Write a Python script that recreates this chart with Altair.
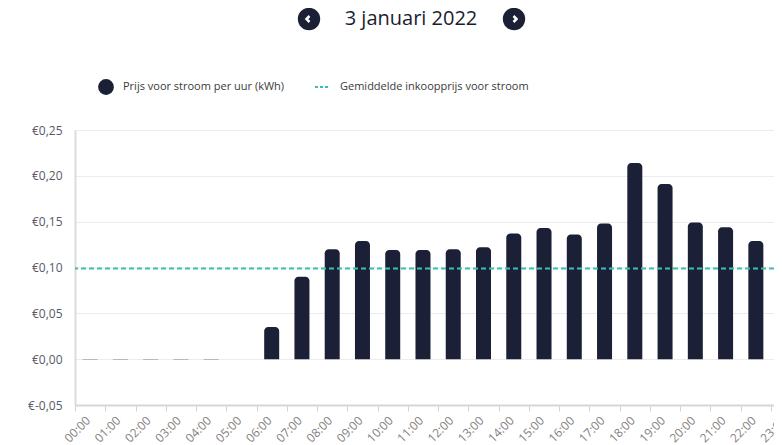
import json
import altair as alt
import pandas as pd

# ---- data ----
hour_labels = ["00:00", "01:00", "02:00", "03:00", "04:00", "05:00",
               "06:00", "07:00", "08:00", "09:00", "10:00", "11:00",
               "12:00", "13:00", "14:00", "15:00", "16:00", "17:00",
               "18:00", "19:00", "20:00", "21:00", "22:00", "23:00"]
prices = [-0.0004, 0.0003, 0.0003, -0.0004, -0.0004, 0.0,
          0.035, 0.090, 0.120, 0.129, 0.119, 0.119,
          0.120, 0.122, 0.137, 0.143, 0.136, 0.148,
          0.214, 0.191, 0.149, 0.144, 0.129, 0.109]
avg_price = 0.099
y_ticks = [-0.05, 0.0, 0.05, 0.10, 0.15, 0.20, 0.25]

title_text = "3 januari 2022"
legend_bar = "Prijs voor stroom per uur (kWh)"
legend_avg = "Gemiddelde inkoopprijs voor stroom"

NAVY = "#1b2036"
TEAL = "#3dbfb0"
FONT = "Open Sans"

df = pd.DataFrame({
    "label": hour_labels,
    "pos": [i + 0.5 for i in range(len(hour_labels))],
    "price": prices,
})
avg_df = pd.DataFrame({"avg": [avg_price]})
one = pd.DataFrame({"a": [0]})

# the visible window shows the hours up to just past 23:00
xscale = alt.Scale(domain=[0, 23.10], nice=False, zero=False, padding=0)
yscale = alt.Scale(domain=[-0.05, 0.25], nice=False)

label_array = json.dumps(hour_labels)

bars = alt.Chart(df).mark_bar(
    width=15, color=NAVY, cornerRadiusTopLeft=4, cornerRadiusTopRight=4, clip=True
).encode(
    x=alt.X("pos:Q", scale=xscale, title=None,
            axis=alt.Axis(values=list(range(len(hour_labels))),
                          labelExpr=f"{label_array}[datum.value]",
                          grid=False, domain=True, domainColor="#d6d6d6", domainWidth=2,
                          ticks=True, tickColor="#cbd4e4", tickSize=6, tickWidth=1,
                          labelAngle=-45, labelAlign="center", labelBaseline="middle",
                          labelPadding=18, labelOffset=2, labelFontSize=12,
                          labelColor="#85817e", labelFont=FONT, labelOverlap=False,
                          labelBound=False, labelFlush=False)),
    y=alt.Y("price:Q", scale=yscale, title=None,
            axis=alt.Axis(values=y_ticks,
                          labelExpr="(datum.value < 0 ? '€-' : '€') + replace(format(abs(datum.value), '.2f'), '.', ',')",
                          grid=True, gridColor="#ececec", gridWidth=1,
                          domain=True, domainColor="#dcdcdc", domainWidth=2,
                          ticks=False, labelPadding=13, labelFontSize=12,
                          labelColor="#555a66", labelFont=FONT)),
    y2=alt.datum(0),
)

avg_rule = alt.Chart(avg_df).mark_rule(
    color=TEAL, strokeDash=[5, 3], strokeWidth=2
).encode(y=alt.Y("avg:Q", scale=yscale))

# ---- header: title with navigation buttons ----
title = alt.Chart(one).mark_text(
    text=title_text, font=FONT, fontSize=20, color="#1a1d2e", align="center", baseline="middle"
).encode(x=alt.value(336), y=alt.value(-111))

nav_left = alt.Chart(one).mark_point(
    shape="circle", filled=True, color=NAVY, size=500, opacity=1
).encode(x=alt.value(234), y=alt.value(-111))

nav_right = alt.Chart(one).mark_point(
    shape="circle", filled=True, color=NAVY, size=500, opacity=1
).encode(x=alt.value(439), y=alt.value(-111))

chev_left = alt.Chart(one).mark_point(
    shape="M 0.25 -0.5 L -0.25 0 L 0.25 0.5", filled=False, stroke="white",
    strokeWidth=2.5, size=144, opacity=1
).encode(x=alt.value(233), y=alt.value(-111))

chev_right = alt.Chart(one).mark_point(
    shape="M -0.25 -0.5 L 0.25 0 L -0.25 0.5", filled=False, stroke="white",
    strokeWidth=2.5, size=144, opacity=1
).encode(x=alt.value(440), y=alt.value(-111))

# ---- legend ----
leg_dot = alt.Chart(one).mark_point(
    shape="circle", filled=True, color=NAVY, size=250, opacity=1
).encode(x=alt.value(31), y=alt.value(-43))

leg_text1 = alt.Chart(one).mark_text(
    text=legend_bar, font=FONT, fontSize=11, color="#3a3a3a", align="left", baseline="middle"
).encode(x=alt.value(48), y=alt.value(-43))

leg_dash = alt.Chart(one).mark_rule(
    color=TEAL, strokeDash=[3, 2], strokeWidth=2
).encode(x=alt.value(240), x2=alt.value(255), y=alt.value(-43))

leg_text2 = alt.Chart(one).mark_text(
    text=legend_avg, font=FONT, fontSize=11, color="#3a3a3a", align="left", baseline="middle"
).encode(x=alt.value(265), y=alt.value(-43))

chart = alt.layer(
    bars, avg_rule, title, nav_left, nav_right, chev_left, chev_right,
    leg_dot, leg_text1, leg_dash, leg_text2
).properties(
    width=699, height=275,
    autosize=alt.AutoSizeParams(type="none"),
    padding={"left": 67, "top": 122, "right": 0, "bottom": 40},
).configure_view(stroke=None).configure(background="white")

chart.save("out.html", embed_options={"renderer": "svg", "actions": False})
